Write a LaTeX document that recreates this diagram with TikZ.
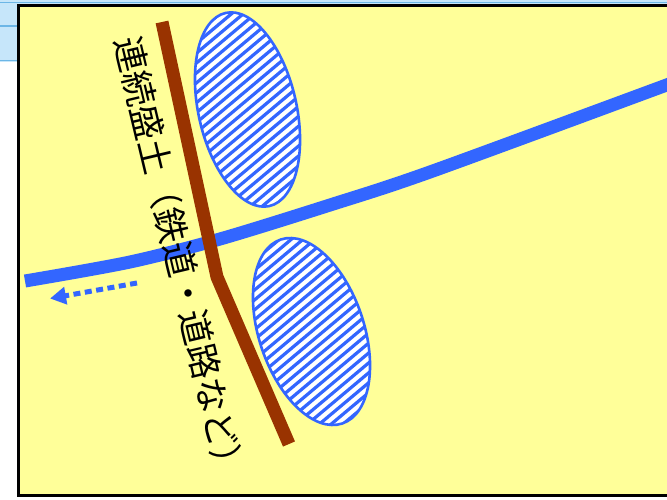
\documentclass[tikz,border=0pt]{standalone}
\usepackage{fontspec}
\newfontfamily\jpfont{Noto Sans CJK JP}
\usetikzlibrary{arrows.meta}
\definecolor{bgyellow}{HTML}{FFFF99}
\definecolor{riverblue}{HTML}{3366FF}
\definecolor{dambrown}{HTML}{993300}
\definecolor{skyblue}{HTML}{C6E6FA}
\definecolor{skyline}{HTML}{6CB6E6}
\tikzset{
  frame/.style={fill=bgyellow, draw=black, line width=3pt},
  river/.style={draw=riverblue, line width=13pt, line cap=butt, line join=round},
  dam/.style={draw=dambrown, line width=13pt, line cap=butt, line join=round},
  flowarrow/.style={draw=riverblue, line width=5pt, dash pattern=on 7pt off 4.5pt,
    -{Triangle[length=16pt,width=17pt]}},
  hatchline/.style={draw=riverblue, line width=3.2pt},
  ellborder/.style={draw=riverblue, line width=2.6pt},
  jptext/.style={inner sep=0pt, font=\jpfont\fontsize{35}{35}\selectfont, text=black}
}
\newcommand\hatchellipse[5]{%
  \begin{scope}
    \clip[rotate around={#5:(#1,#2)}] (#1,#2) ellipse [x radius=#4, y radius=#3];
    \fill[white] (#1-120,#2-120) rectangle (#1+120,#2+120);
    \begin{scope}[shift={(#1,#2)}, rotate=40]
      \foreach \i in {-18,...,18} \draw[hatchline] (-130,\i*7.6) -- (130,\i*7.6);
    \end{scope}
  \end{scope}
  \draw[ellborder, rotate around={#5:(#1,#2)}] (#1,#2) ellipse [x radius=#4, y radius=#3];
}
\begin{document}
\begin{tikzpicture}[x=1pt,y=-1pt]
\useasboundingbox (0,0) rectangle (667,499);
% outside background
\fill[white] (0,0) rectangle (667,499);
\fill[skyblue] (0,0) rectangle (18,62);
\fill[skyblue] (0,0) rectangle (667,4);
\draw[skyline, line width=1pt] (0,2) -- (667,2);
\draw[skyline, line width=1.2pt] (0,26) -- (18,26);
\draw[skyline, line width=1pt] (0,60) -- (18,60);
% frame
\filldraw[frame] (18.5,5) rectangle (690,495);
% hatched areas
\hatchellipse{247.5}{109.5}{99}{49}{12.75}
\hatchellipse{311.5}{331.5}{97}{52.5}{18.5}
% river
\coordinate (r1) at (25,281);
\coordinate (r2) at (130,262);
\coordinate (r3) at (220,239);
\coordinate (r4) at (330,205);
\coordinate (r5) at (430,172);
\coordinate (r6) at (672,83);
\draw[river] plot[smooth, tension=0.5] coordinates {(r1) (r2) (r3) (r4) (r5) (r6)};
% flow arrow
\coordinate (a1) at (137,283);
\coordinate (a2) at (50,298.5);
\draw[flowarrow] (a1) -- (a2);
% embankment
\coordinate (d1) at (162,22);
\coordinate (d2) at (217,277);
\coordinate (d3) at (289,444);
\draw[dam] (d1) -- (d2) -- (d3);
% label
\node[jptext, rotate=-76.6] (lbl) at (180,259) {連続盛土（鉄道・道路など）};
\end{tikzpicture}
\end{document}
